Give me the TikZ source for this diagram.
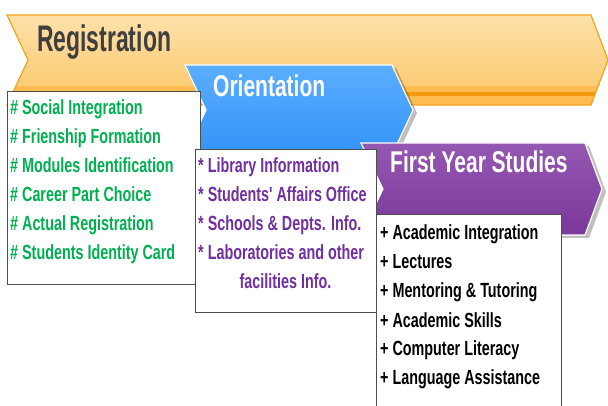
\documentclass[tikz,border=0pt]{standalone}
\usepackage{fontspec}
\newfontfamily\bodyfont[FakeStretch=0.70]{Liberation Sans}
\newfontfamily\regfont[FakeStretch=0.62]{Liberation Sans}
\newfontfamily\titfont[FakeStretch=0.70]{Liberation Sans}
\definecolor{regtop}{HTML}{FDE1AA}
\definecolor{regbot}{HTML}{FBC767}
\definecolor{regband}{HTML}{F29A0E}
\definecolor{regbandlow}{HTML}{FDBB50}
\definecolor{regline}{HTML}{F7A21B}
\definecolor{blutop}{HTML}{5CAEFF}
\definecolor{blubot}{HTML}{3293F6}
\definecolor{purtop}{HTML}{9458B2}
\definecolor{purmid}{HTML}{A46FC0}
\definecolor{purbot}{HTML}{7A3898}
\definecolor{greentxt}{HTML}{00B050}
\definecolor{purtxt}{HTML}{7030A0}
\definecolor{titgray}{HTML}{3F3F3F}
\definecolor{boxline}{HTML}{4D4D4D}
\tikzset{
  listbox/.style={fill=white, draw=boxline, line width=1pt},
  bodytxt/.style={inner sep=0pt, anchor=base west, font=\bodyfont\bfseries\fontsize{20.5}{24}\selectfont},
  titletxt/.style={inner sep=0pt, anchor=base west, text=white, font=\titfont\bfseries\fontsize{30}{34}\selectfont},
  shadowfill/.style={fill=black, opacity=0.25},
}
\begin{document}
\begin{tikzpicture}[x=1pt,y=-1pt]
\useasboundingbox (0,0) rectangle (608,406);
% Registration chevron
\path[top color=regtop, bottom color=regbot]
  (7,15) -- (591,15) -- (608,60) -- (591,105) -- (7,105) -- (28,60) -- cycle;
\begin{scope}
  \clip (7,15) -- (591,15) -- (608,60) -- (591,105) -- (7,105) -- (28,60) -- cycle;
  \fill[regbandlow] (0,86) rectangle (610,92);
  \fill[regband] (0,92) rectangle (610,96);
  \fill[regbandlow] (0,96) rectangle (610,106);
\end{scope}
\draw[regline, line width=1.2pt, line join=miter]
  (7,15) -- (591,15) -- (608,60) -- (591,105) -- (7,105) -- (28,60) -- cycle;
\node[inner sep=0pt, anchor=base west, text=titgray, font=\regfont\bfseries\fontsize{37}{40}\selectfont] (reg) at (37,52) {Registration};
% Orientation chevron
\path[shadowfill] (188,68) -- (396,68) -- (417,113) -- (396,158) -- (188,158) -- (209,113) -- cycle;
\path[top color=blutop, bottom color=blubot, draw=white, line width=1.2pt]
  (185,65) -- (392,65) -- (413,110) -- (392,155) -- (185,155) -- (206,110) -- cycle;
\node[titletxt] (ori) at (213,97) {Orientation};
% Registration list box
\draw[listbox] (7,92) rectangle (200,285);
\node[bodytxt, text=greentxt] (g1) at (10,115) {\# Social Integration};
\node[bodytxt, text=greentxt] (g2) at (10,144) {\# Frienship Formation};
\node[bodytxt, text=greentxt] (g3) at (10,173) {\# Modules Identification};
\node[bodytxt, text=greentxt] (g4) at (10,202) {\# Career Part Choice};
\node[bodytxt, text=greentxt] (g5) at (10,231) {\# Actual Registration};
\node[bodytxt, text=greentxt] (g6) at (10,260) {\# Students Identity Card};
% First Year Studies chevron
\path[shadowfill] (364,146) -- (589,146) -- (606,192) -- (589,238) -- (364,238) -- (386,192) -- cycle;
\path[top color=purtop, middle color=purmid, bottom color=purbot, draw=white, line width=1.2pt]
  (361,143) -- (585,143) -- (602,189) -- (585,235) -- (361,235) -- (383,189) -- cycle;
\node[titletxt] (fys) at (390,173) {First Year Studies};
% Orientation list box
\draw[listbox] (195,150) rectangle (376,312);
\node[bodytxt, text=purtxt] (p1) at (198,173) {* Library Information};
\node[bodytxt, text=purtxt] (p2) at (198,202) {* Students' Affairs Office};
\node[bodytxt, text=purtxt] (p3) at (198,231) {* Schools \& Depts. Info.};
\node[bodytxt, text=purtxt] (p4) at (198,260) {* Laboratories and other};
\node[bodytxt, text=purtxt, anchor=base] (p5) at (285.5,288) {facilities Info.};
% First Year list box
\fill[white] (376,215) rectangle (561,410);
\draw[boxline, line width=1pt] (376,410) -- (376,215) -- (561,215) -- (561,410);
\node[bodytxt, text=black] (b1) at (380,240) {+ Academic Integration};
\node[bodytxt, text=black] (b2) at (380,269) {+ Lectures};
\node[bodytxt, text=black] (b3) at (380,298) {+ Mentoring \& Tutoring};
\node[bodytxt, text=black] (b4) at (380,327) {+ Academic Skills};
\node[bodytxt, text=black] (b5) at (380,355) {+ Computer Literacy};
\node[bodytxt, text=black] (b6) at (380,384) {+ Language Assistance};
\end{tikzpicture}
\end{document}
